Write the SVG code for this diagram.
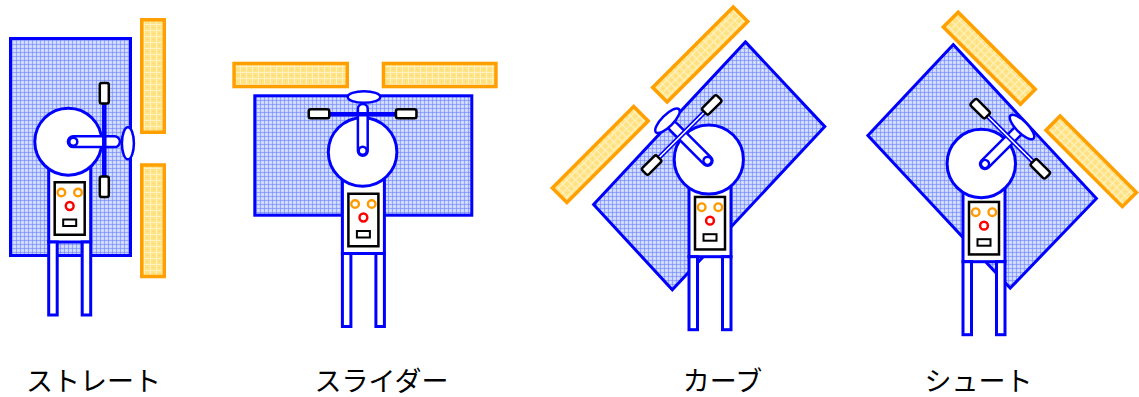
<svg xmlns="http://www.w3.org/2000/svg" xmlns:xlink="http://www.w3.org/1999/xlink" width="1139" height="397" viewBox="0 0 1139 397">
  <style>
    .bl { fill: #ffffff; stroke: #0000ff; stroke-width: 3; }
    .arm { fill: #ffffff; stroke: #0000ff; stroke-width: 2.5; }
    .rk { fill: url(#blueMesh); stroke: #0000ff; stroke-width: 3; stroke-linejoin: miter; }
    .pn { fill: url(#yellowMesh); stroke: #ffa000; stroke-width: 3.5; }
    .gr { fill: #ffffff; stroke: #000000; stroke-width: 2.5; }
    .pl { fill: #ffffff; stroke: #000000; stroke-width: 2.5; }
    .ey { fill: none; stroke: #ff9900; stroke-width: 2.4; }
    .ms { fill: none; stroke: #ff0000; stroke-width: 2.5; }
    .rod { stroke: #0000ff; stroke-width: 4.5; }
    .rodd { fill: #ffffff; stroke: #0000ff; stroke-width: 1.6; }
    .lb { font-family: "Noto Sans CJK JP", "Noto Sans", sans-serif; font-size: 27px; fill: #000000; text-anchor: middle; }
  </style>
  <defs>
    <!-- fine checked blue mesh of the large pads -->
    <pattern id="blueMesh" width="4" height="4" patternUnits="userSpaceOnUse">
      <rect width="4" height="4" fill="#ccd6ff"/>
      <rect x="0" y="0" width="1" height="4" fill="#94a7ff"/>
      <rect x="0" y="0" width="4" height="1" fill="#94a7ff"/>
      <rect x="0" y="0" width="1" height="1" fill="#7a90ff"/>
      <rect x="2" y="2" width="1" height="1" fill="#e4e9ff"/>
    </pattern>
    <!-- yellow mesh of the narrow boards -->
    <pattern id="yellowMesh" width="6" height="6" patternUnits="userSpaceOnUse">
      <rect width="6" height="6" fill="#ffe487"/>
      <rect x="0" y="0" width="1" height="6" fill="#fff1c2"/>
      <rect x="0" y="0" width="6" height="1" fill="#fff1c2"/>
      <rect x="3" y="3" width="1" height="1" fill="#ffd65a"/>
    </pattern>
    <!-- body, legs and face; origin at the belt line centre -->
    <g id="torso">
      <rect class="bl" x="-21" y="-85" width="42" height="85"/>
      <rect class="bl" x="-21" y="0" width="8.5" height="73"/>
      <rect class="bl" x="12.5" y="0" width="8.5" height="73"/>
      <rect class="pl" x="-15" y="-59.75" width="30" height="52.5"/>
      <circle class="ey" cx="-8.3" cy="-49.5" r="3.8"/>
      <circle class="ey" cx="8.3" cy="-49.5" r="3.8"/>
      <circle class="ms" cx="0" cy="-36" r="3.9"/>
      <rect x="-6.5" y="-22.5" width="13" height="6.5" fill="#ffffff" stroke="#000000" stroke-width="2"/>
    </g>
  </defs>

  <!-- straight -->
  <g id="straight">
    <rect class="pn" x="141.75" y="19.75" width="22.5" height="112.5"/>
    <rect class="pn" x="141.75" y="165" width="22.5" height="111.5"/>
    <rect class="rk" x="10.5" y="38.5" width="120" height="217"/>
    <use xlink:href="#torso" href="#torso" transform="translate(69.7 242)"/>
    <circle class="bl" cx="68.3" cy="141.7" r="33.5"/>
    <rect class="arm" x="67.9" y="136.3" width="52" height="10.8" rx="5.4"/>
    <circle class="arm" cx="73.3" cy="141.7" r="4"/>
    <line class="rod" x1="104.3" y1="86" x2="104.3" y2="195"/>
    <rect class="gr" x="99.8" y="83.05" width="9" height="20.5" rx="2"/>
    <rect class="gr" x="99.8" y="176.55" width="9" height="20.5" rx="2"/>
    <ellipse class="arm" cx="127.9" cy="143.3" rx="6" ry="16"/>
  </g>

  <!-- slider -->
  <g id="slider">
    <rect class="pn" x="234.05" y="63.45" width="113.2" height="23.1"/>
    <rect class="pn" x="383.45" y="63.45" width="112.5" height="23.1"/>
    <rect class="rk" x="254.8" y="95.8" width="217" height="119.4"/>
    <use xlink:href="#torso" href="#torso" transform="translate(363.4 253.5)"/>
    <circle class="bl" cx="362.6" cy="152" r="34.3"/>
    <rect class="arm" x="357.9" y="104" width="9.8" height="51.7" rx="4.9"/>
    <circle class="arm" cx="362.7" cy="150.7" r="4"/>
    <line class="rod" x1="310" y1="114.3" x2="416" y2="114.3"/>
    <rect class="gr" x="308.75" y="109.3" width="20.5" height="9" rx="2"/>
    <rect class="gr" x="395.95" y="109.3" width="20.5" height="9" rx="2"/>
    <ellipse class="arm" cx="364" cy="97" rx="16.3" ry="5.8"/>
  </g>

  <!-- curve -->
  <g id="curve">
    <rect class="pn" x="-57" y="-10.25" width="114" height="20.5" transform="translate(700.2 54.5) rotate(-45)"/>
    <rect class="pn" x="-57.5" y="-10.25" width="115" height="20.5" transform="translate(600.3 154.5) rotate(-45)"/>
    <polygon class="rk" points="745.4,41.9 824.8,126.6 672.3,289.8 593.6,204.4"/>
    <use xlink:href="#torso" href="#torso" transform="translate(710 256.7)"/>
    <circle class="bl" cx="708.8" cy="159.5" r="34.6"/>
    <g transform="translate(707.5 160.8) rotate(-45)">
      <rect class="arm" x="-4.9" y="-53" width="9.8" height="58" rx="4.9"/>
      <circle class="arm" cx="0" cy="0" r="4"/>
      <rect class="rodd" x="-44" y="-38.1" width="88" height="3.2"/>
      <rect class="gr" x="32.25" y="-41" width="20.5" height="9" rx="2"/>
      <rect class="gr" x="-52.75" y="-41" width="20.5" height="9" rx="2"/>
      <ellipse class="arm" cx="0" cy="-56.6" rx="16.3" ry="5.8"/>
    </g>
  </g>

  <!-- shoot -->
  <g id="shoot">
    <rect class="pn" x="-54.5" y="-10.5" width="109" height="21" transform="translate(989.3 58.2) rotate(45)"/>
    <rect class="pn" x="-54" y="-10" width="108" height="20" transform="translate(1091.2 161.35) rotate(45)"/>
    <polygon class="rk" points="953.2,44.6 1096.4,198.5 1010.2,288.1 867.9,135.5"/>
    <use xlink:href="#torso" href="#torso" transform="translate(984 261.7)"/>
    <circle class="bl" cx="981.3" cy="163.5" r="34.2"/>
    <g transform="translate(985 164) rotate(45)">
      <rect class="arm" x="-4.9" y="-50" width="9.8" height="55" rx="4.9"/>
      <circle class="arm" cx="0" cy="0" r="4"/>
      <rect class="rodd" x="-44" y="-37.3" width="88" height="3.2"/>
      <rect class="gr" x="32.25" y="-40.2" width="20.5" height="9" rx="2"/>
      <rect class="gr" x="-52.75" y="-40.2" width="20.5" height="9" rx="2"/>
      <ellipse class="arm" cx="0" cy="-52.3" rx="16.3" ry="5.8"/>
    </g>
  </g>

  <!-- captions -->
  <g id="captions">
    <text class="lb" x="93.5" y="391">ストレート</text>
    <text class="lb" x="381.5" y="391">スライダー</text>
    <text class="lb" x="722.5" y="391">カーブ</text>
    <text class="lb" x="978.5" y="391">シュート</text>
  </g>
</svg>
